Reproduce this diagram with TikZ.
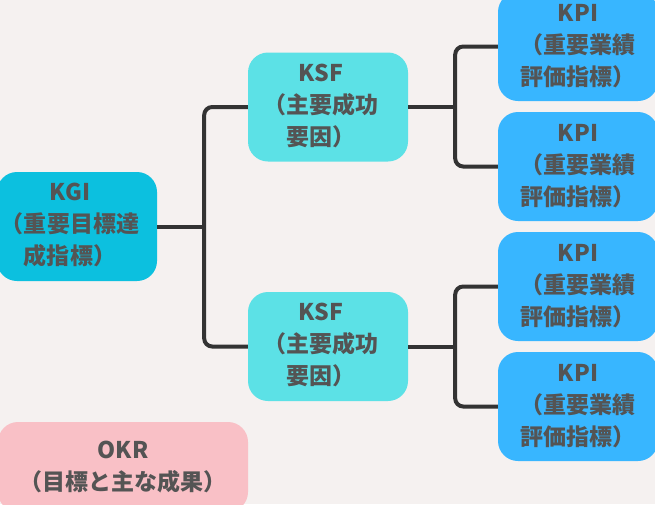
\documentclass[tikz,border=0pt]{standalone}
\usepackage{fontspec}
\setmainfont{Noto Sans CJK JP}
\usepackage{tikz}
\usetikzlibrary{calc,positioning}
\definecolor{fundo}{RGB}{245,241,240}
\definecolor{texto}{RGB}{84,84,84}
\definecolor{linha}{RGB}{51,51,51}
\definecolor{ciano}{RGB}{12,192,223}
\definecolor{turquesa}{RGB}{92,225,230}
\definecolor{azul}{RGB}{56,182,255}
\definecolor{rosa}{RGB}{249,192,198}
\newcommand{\recuado}[1]{\begin{tabular}{@{}c@{\hspace{14pt}}}#1\end{tabular}}
\tikzset{%
  bloco/.style={fill=#1,draw=none,rounded corners=20pt,text=texto,align=center,
    font=\fontsize{23}{32}\selectfont\bfseries,minimum width=160pt,minimum height=109pt,inner sep=4pt},
  conecta/.style={draw=linha,line width=4pt},
  ramo/.style={conecta,rounded corners=8pt}
}
\begin{document}
\begin{tikzpicture}[x=1pt,y=-1pt]
    \useasboundingbox (0,0) rectangle (655,504);
    \fill[fundo] (0,0) rectangle (655,504);
    % nos
    \node[bloco=ciano] (kgi) at (77,226.5) {\recuado{KGI\\（重要目標達\\成指標）}};
    \node[bloco=turquesa] (ksfa) at (328,107) {\recuado{KSF\\（主要成功\\要因）}};
    \node[bloco=turquesa] (ksfb) at (328,346.5) {\recuado{KSF\\（主要成功\\要因）}};
    \node[bloco=azul] (kpia) at (578,46.5) {KPI\\（重要業績\\評価指標）};
    \node[bloco=azul] (kpib) at (578,166.5) {KPI\\（重要業績\\評価指標）};
    \node[bloco=azul] (kpic) at (578,286.5) {KPI\\（重要業績\\評価指標）};
    \node[bloco=azul] (kpid) at (578,406.5) {KPI\\（重要業績\\評価指標）};
    \node[bloco=rosa,minimum width=250pt,minimum height=90pt] (okr) at (123,467) {OKR\\（目標と主な成果）};
    % ligacoes
    \draw[conecta] (kgi.east) -- ++(47,0) coordinate (nokgi);
    \draw[ramo] (ksfa.west) -| (nokgi) |- (ksfb.west);
    \draw[conecta] (ksfa.east) -- ++(47,0) coordinate (noksfa);
    \draw[ramo] (kpia.west) -| (noksfa) |- (kpib.west);
    \draw[conecta] (ksfb.east) -- ++(47,0) coordinate (noksfb);
    \draw[ramo] (kpic.west) -| (noksfb) |- (kpid.west);
\end{tikzpicture}
\end{document}
